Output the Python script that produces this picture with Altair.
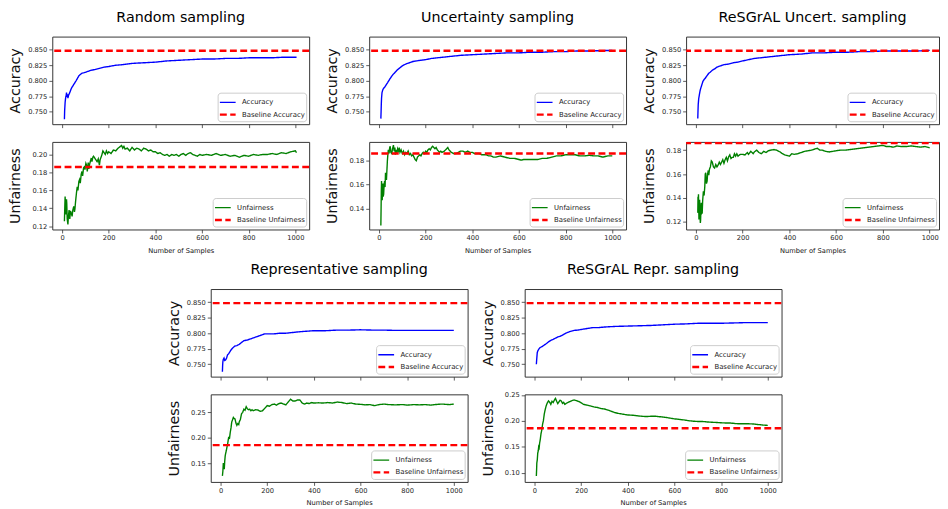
import altair as alt
import pandas as pd

# ---------------- data ----------------
titles = ["Random sampling", "Uncertainty sampling", "ReSGrAL Uncert. sampling",
          "Representative sampling", "ReSGrAL Repr. sampling"]

baseline_accuracy = 0.8485
baseline_unfairness = 0.186
x_ticks = [0, 200, 400, 600, 800, 1000]
acc_ticks = [0.750, 0.775, 0.800, 0.825, 0.850]

# Random sampling
rand_acc_x = [10, 11, 13, 15, 17, 19, 21, 23, 25, 28, 32, 36, 40, 45, 50, 55, 60, 66, 72, 78, 84, 95, 110, 125, 140, 160, 180, 200, 230, 260, 300, 350, 400, 450, 500, 550, 600, 650, 700, 750, 800, 850, 900, 950, 1005]
rand_acc_y = [.738, .752, .765, .772, .775, .781, .774, .778, .772, .777, .780, .784, .788, .791, .794, .797, .800, .804, .808, .810, .812, .813, .815, .817, .818, .820, .822, .823, .825, .826, .828, .829, .830, .832, .833, .834, .835, .835, .836, .836, .837, .837, .837, .838, .838]
rand_unf_x = [10, 12, 13, 15, 17, 19, 20, 22, 25, 27, 30, 33, 36, 40, 43, 46, 50, 53, 55, 58, 62, 65, 68, 72, 75, 78, 82, 85, 88, 92, 95, 98, 102, 105, 108, 112, 115, 118, 122, 125, 128, 132, 135, 140, 145, 150, 155, 160, 163, 167, 170, 175, 180, 185, 190, 195, 200, 210, 220, 230, 240, 250, 255, 260, 265, 270, 280, 290, 300, 310, 320, 330, 340, 350, 360, 370, 380, 390, 400, 410, 420, 430, 440, 450, 460, 470, 480, 490, 500, 510, 520, 530, 540, 550, 560, 570, 580, 590, 600, 620, 640, 660, 680, 700, 720, 740, 760, 780, 800, 820, 840, 860, 880, 900, 920, 940, 960, 980, 1000, 1005]
rand_unf_y = [.1255, .145, .153, .140, .133, .150, .146, .128, .122, .131, .138, .128, .137, .134, .131, .138, .142, .136, .139, .148, .158, .164, .160, .170, .172, .168, .178, .181, .176, .185, .186, .183, .190, .188, .181, .191, .184, .189, .193, .196, .192, .197, .198, .196, .194, .192, .195, .188, .194, .197, .199, .204, .202, .200, .204, .201, .203, .201, .205, .204, .207, .209, .210, .207, .209, .206, .207, .204, .208, .205, .207, .206, .204, .207, .206, .204, .205, .203, .203, .201, .202, .200, .199, .200, .198, .200, .199, .200, .198, .200, .201, .199, .201, .202, .200, .199, .198, .200, .199, .200, .199, .201, .199, .200, .198, .199, .197, .199, .198, .200, .199, .200, .200, .201, .200, .202, .201, .203, .204, .202]

# Uncertainty sampling
unc_acc_x = [8, 9, 10, 11, 13, 16, 20, 25, 30, 37, 45, 52, 60, 70, 80, 90, 100, 115, 130, 145, 160, 180, 200, 225, 250, 275, 300, 350, 400, 450, 500, 550, 600, 650, 700, 750, 800, 850, 900, 950, 1000]
unc_acc_y = [.739, .750, .763, .772, .781, .785, .788, .790, .793, .797, .802, .806, .810, .814, .818, .821, .824, .827, .829, .831, .832, .833, .834, .836, .837, .838, .839, .841, .842, .843, .844, .845, .845, .846, .846, .847, .847, .848, .848, .8485, .849]
unc_unf_x = [8, 9, 10, 11, 12, 14, 15, 17, 18, 20, 22, 24, 26, 28, 30, 32, 34, 36, 38, 40, 43, 46, 48, 51, 55, 58, 62, 65, 68, 70, 74, 77, 80, 84, 87, 90, 95, 100, 105, 110, 115, 120, 125, 130, 135, 140, 145, 150, 155, 160, 165, 170, 175, 180, 185, 190, 195, 200, 205, 210, 215, 220, 225, 230, 235, 240, 245, 250, 255, 260, 265, 270, 280, 290, 295, 300, 310, 320, 330, 340, 350, 360, 370, 380, 390, 400, 410, 420, 430, 440, 450, 460, 470, 480, 490, 500, 520, 540, 560, 580, 600, 610, 620, 640, 660, 680, 700, 720, 740, 760, 780, 800, 820, 840, 860, 880, 900, 920, 940, 960, 980, 1000]
unc_unf_y = [.126, .140, .155, .163, .152, .147, .158, .161, .150, .152, .160, .163, .158, .170, .166, .164, .172, .180, .185, .189, .186, .191, .192, .187, .186, .190, .193, .188, .191, .185, .189, .186, .190, .188, .191, .187, .189, .186, .188, .185, .187, .186, .188, .185, .186, .184, .185, .183, .181, .180, .183, .184, .185, .184, .186, .187, .186, .188, .187, .189, .190, .189, .191, .192, .191, .190, .191, .189, .188, .187, .188, .187, .188, .190, .191, .189, .187, .186, .186, .187, .188, .188, .187, .188, .187, .187, .186, .186, .186, .185, .185, .185, .184, .184, .183, .183, .184, .183, .182, .182, .181, .1805, .181, .181, .181, .181, .182, .182, .183, .184, .184, .185, .185, .185, .184, .184, .1845, .184, .184, .183, .184, .184]

# ReSGrAL Uncert. sampling
rsu_acc_x = [8, 9, 10, 12, 15, 18, 20, 25, 30, 35, 40, 47, 55, 62, 70, 80, 90, 105, 120, 140, 160, 180, 200, 225, 250, 275, 300, 350, 400, 450, 500, 550, 600, 650, 700, 750, 800, 850, 900, 950, 1000]
rsu_acc_y = [.739, .752, .762, .771, .778, .784, .787, .793, .799, .802, .804, .808, .812, .814, .817, .819, .822, .824, .826, .827, .829, .830, .832, .834, .836, .837, .838, .840, .842, .843, .845, .845, .846, .846, .847, .847, .848, .848, .848, .848, .849]
rsu_unf_x = [8, 9, 10, 11, 13, 14, 16, 17, 19, 20, 22, 23, 25, 27, 29, 32, 35, 38, 40, 42, 45, 48, 50, 53, 55, 58, 62, 66, 70, 75, 80, 85, 90, 95, 100, 105, 110, 115, 120, 125, 130, 135, 140, 145, 150, 155, 160, 165, 170, 175, 180, 190, 200, 210, 220, 225, 235, 245, 250, 260, 270, 280, 290, 300, 310, 320, 335, 345, 360, 370, 380, 390, 400, 410, 420, 435, 450, 465, 480, 495, 510, 520, 530, 540, 555, 570, 585, 600, 620, 640, 660, 680, 700, 720, 740, 760, 780, 800, 815, 830, 845, 860, 880, 900, 920, 940, 960, 980, 1000]
rsu_unf_y = [.1275, .141, .136, .143, .122, .130, .1385, .128, .119, .121, .133, .136, .127, .1275, .138, .1455, .142, .1495, .160, .161, .152, .154, .160, .163, .159, .164, .166, .171, .170, .166, .165, .168, .166, .1675, .170, .168, .170, .172, .169, .172, .174, .171, .1745, .176, .173, .174, .174, .177, .175, .177, .175, .1765, .1765, .176, .178, .1765, .179, .177, .1785, .180, .178, .177, .179, .178, .1795, .180, .1805, .180, .1785, .177, .176, .1755, .175, .177, .1765, .177, .178, .179, .1795, .180, .181, .1815, .180, .180, .179, .1785, .179, .1795, .180, .180, .1805, .181, .1815, .182, .1825, .183, .1835, .184, .183, .183, .1825, .1835, .183, .183, .1835, .183, .1825, .183, .182]

# Representative sampling
rep_acc_x = [8, 9, 10, 12, 15, 18, 22, 26, 30, 35, 40, 45, 52, 60, 70, 80, 90, 100, 115, 130, 145, 160, 175, 190, 210, 230, 255, 280, 305, 330, 360, 400, 450, 500, 550, 600, 650, 700, 750, 800, 850, 900, 950, 1000]
rep_acc_y = [.738, .748, .754, .758, .760, .756, .757, .760, .765, .767, .770, .773, .776, .779, .780, .782, .785, .788, .789, .791, .793, .795, .797, .799, .799, .799, .800, .800, .801, .802, .803, .804, .804, .805, .805, .8055, .805, .805, .8045, .8045, .8045, .8045, .8045, .8045]
rep_unf_x = [8, 10, 12, 14, 16, 18, 20, 22, 25, 28, 31, 35, 38, 42, 45, 48, 52, 55, 58, 62, 66, 70, 74, 78, 80, 85, 90, 95, 100, 105, 110, 115, 120, 125, 130, 135, 140, 150, 160, 170, 180, 190, 200, 210, 220, 230, 240, 250, 260, 270, 280, 290, 300, 310, 320, 330, 340, 350, 360, 370, 380, 390, 400, 420, 440, 460, 480, 500, 520, 540, 560, 580, 600, 620, 640, 660, 680, 700, 720, 750, 780, 800, 830, 850, 880, 900, 930, 950, 980, 1000]
rep_unf_y = [.126, .135, .151, .145, .139, .155, .165, .170, .176, .183, .190, .202, .198, .212, .220, .231, .236, .240, .238, .237, .229, .2245, .228, .226, .231, .236, .247, .250, .256, .254, .261, .257, .255, .256, .253, .255, .253, .255, .2545, .252, .253, .258, .263, .262, .265, .266, .264, .267, .268, .266, .2645, .270, .2755, .272, .272, .274, .274, .268, .266, .268, .267, .269, .268, .2685, .268, .269, .268, .270, .269, .267, .268, .266, .2655, .2645, .265, .263, .265, .266, .265, .2645, .265, .264, .265, .2645, .265, .264, .2655, .266, .265, .266]

# ReSGrAL Repr. sampling
rsr_acc_x = [8, 10, 12, 15, 18, 22, 25, 30, 35, 42, 50, 60, 70, 80, 90, 100, 110, 125, 140, 155, 170, 185, 200, 225, 250, 275, 300, 350, 400, 450, 500, 550, 600, 650, 700, 750, 800, 850, 900, 950, 1000]
rsr_acc_y = [.750, .760, .769, .772, .774, .776, .777, .778, .779, .781, .783, .786, .7885, .790, .792, .794, .795, .798, .801, .803, .8045, .805, .806, .8075, .809, .809, .810, .811, .8115, .812, .8125, .8135, .8145, .815, .816, .816, .816, .8165, .817, .817, .817]
rsr_unf_x = [8, 9, 10, 12, 14, 16, 18, 20, 22, 25, 28, 31, 35, 38, 42, 46, 50, 55, 60, 65, 70, 75, 80, 85, 90, 95, 100, 105, 110, 115, 120, 125, 130, 140, 150, 160, 170, 180, 190, 200, 210, 220, 230, 240, 255, 270, 285, 300, 315, 330, 345, 360, 380, 400, 420, 440, 460, 480, 500, 520, 540, 560, 580, 600, 620, 640, 660, 680, 700, 720, 740, 760, 780, 800, 820, 840, 860, 880, 900, 920, 940, 960, 980, 1000]
rsr_unf_y = [.0937, .105, .119, .125, .138, .142, .150, .148, .157, .165, .1755, .182, .1945, .200, .2135, .222, .229, .235, .2385, .236, .232, .238, .2355, .240, .2435, .238, .2335, .237, .240, .2385, .234, .236, .232, .235, .237, .239, .2405, .239, .2375, .235, .232, .231, .230, .229, .227, .226, .224, .223, .221, .2185, .216, .2145, .213, .2115, .211, .210, .209, .2085, .209, .209, .208, .207, .2055, .204, .203, .202, .2005, .1995, .199, .199, .198, .1975, .197, .1965, .196, .196, .195, .1945, .1945, .1945, .194, .193, .192, .1915]

# per-panel unfairness axes
unf_domains = [[0.1163, 0.214], [0.1226, 0.1957], [0.1136, 0.1869], [0.1143, 0.285], [0.0824, 0.2513]]
unf_ticks = [[0.12, 0.14, 0.16, 0.18, 0.20], [0.14, 0.16, 0.18], [0.12, 0.14, 0.16, 0.18],
             [0.15, 0.20, 0.25], [0.10, 0.15, 0.20, 0.25]]
acc_domain = [0.730, 0.8712]
x_domain_full = [-42, 1059]
x_domain_cut = [-42, 1040]   # last panel is cut at the right edge of the figure

FONT = "DejaVu Sans"
W, H = 261, 89
W_CUT = 257


def resolve(c):
    return c.resolve_scale(x="independent", y="independent", color="independent",
                           strokeDash="independent", strokeWidth="independent")


def panel(xs, ys, label, base_label, base_val, color, ydomain, yticks, yfmt, ytitle, bottom,
          title=None, width=W, xdom=x_domain_full):
    df = pd.DataFrame({"x": xs, "y": ys, "s": label})
    bdf = pd.DataFrame({"y": [base_val], "s": [base_label]})
    dom = [label, base_label]
    leg = alt.Legend(title=None, orient="bottom-right", offset=3, fillColor="white",
                     strokeColor="#cccccc", cornerRadius=3, padding=0.8, labelFontSize=7,
                     labelFont=FONT, labelColor="#222222", symbolType="stroke", symbolSize=256,
                     labelOffset=5, rowPadding=-1.3, labelLimit=200)
    col = alt.Color("s:N", scale=alt.Scale(domain=dom, range=[color, "#ff0000"]), legend=leg)
    dash = alt.StrokeDash("s:N", scale=alt.Scale(domain=dom, range=[[1, 0], [7, 3.5]]), legend=leg)
    sw = alt.StrokeWidth("s:N", scale=alt.Scale(domain=dom, range=[1.4, 2.5]), legend=leg)
    if bottom:
        xaxis = alt.Axis(values=x_ticks, labels=True, format="d", title="Number of Samples",
                         titleFontSize=6.8, titlePadding=6)
    else:
        xaxis = alt.Axis(values=x_ticks, labels=False, title=None)
    xenc = alt.X("x:Q", scale=alt.Scale(domain=xdom, nice=False, zero=False), axis=xaxis)
    yenc = alt.Y("y:Q", scale=alt.Scale(domain=ydomain, nice=False, zero=False),
                 axis=alt.Axis(values=yticks, format=yfmt, title=ytitle, titleX=-37, titleY=H / 2,
                               titleAngle=270, titleAlign="center", titleBaseline="middle",
                               titleFontSize=14.5))
    line = alt.Chart(df).mark_line(clip=True).encode(x=xenc, y=yenc, color=col,
                                                     strokeDash=dash, strokeWidth=sw)
    rule = alt.Chart(bdf).mark_rule(clip=True).encode(y=yenc, color=col,
                                                      strokeDash=dash, strokeWidth=sw)
    ch = alt.layer(line, rule).properties(width=width, height=H)
    if title:
        ch = ch.properties(title=alt.TitleParams(text=title, fontSize=14.5, font=FONT,
                                                 fontWeight="normal", color="black",
                                                 anchor="middle", baseline="alphabetic",
                                                 offset=0.5))
    return ch


def group(i, ax, ay, ux, uy, width=W, xdom=x_domain_full):
    acc = panel(ax, ay, "Accuracy", "Baseline Accuracy", baseline_accuracy, "#0000ff",
                acc_domain, acc_ticks, ".3f", "Accuracy", False, titles[i], width, xdom)
    unf = panel(ux, uy, "Unfairness", "Baseline Unfairness", baseline_unfairness, "#008000",
                unf_domains[i], unf_ticks[i], ".2f", "Unfairness", True, None, width, xdom)
    return resolve(alt.vconcat(acc, unf, spacing=18, bounds="flush"))


g1 = group(0, rand_acc_x, rand_acc_y, rand_unf_x, rand_unf_y)
g2 = group(1, unc_acc_x, unc_acc_y, unc_unf_x, unc_unf_y)
g3 = group(2, rsu_acc_x, rsu_acc_y, rsu_unf_x, rsu_unf_y, W_CUT, x_domain_cut)
g4 = group(3, rep_acc_x, rep_acc_y, rep_unf_x, rep_unf_y)
g5 = group(4, rsr_acc_x, rsr_acc_y, rsr_unf_x, rsr_unf_y)

spacer = alt.Chart(pd.DataFrame({"a": [0]})).mark_text(text="").properties(
    width=103, height=H, view=alt.ViewBackground(stroke="transparent"))

top_row = resolve(alt.hconcat(g1, g2, g3, spacing=14))
bot_row = resolve(alt.hconcat(spacer, g4, g5, spacing=11))

chart = resolve(alt.vconcat(top_row, bot_row, spacing=6.5)).properties(
    padding={"left": -1, "top": -3, "right": 0, "bottom": 0}
).configure(font=FONT).configure_view(
    stroke="#333333", strokeWidth=1
).configure_axis(
    domain=False, grid=False, tickColor="#333333", tickSize=3.5, tickWidth=0.8,
    labelFontSize=6.8, labelFont=FONT, labelColor="#222222", labelPadding=2,
    titleFont=FONT, titleFontWeight="normal", titleColor="#111111"
)

chart.save("out.html", embed_options={"renderer": "svg", "actions": False})
